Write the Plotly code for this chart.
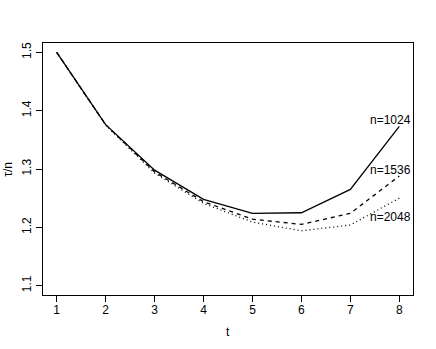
import plotly.graph_objects as go

# iteration index
t = [1, 2, 3, 4, 5, 6, 7, 8]

# tau / n for three sample sizes
tau_1024 = [1.500, 1.376, 1.298, 1.248, 1.224, 1.225, 1.265, 1.373]
tau_1536 = [1.500, 1.376, 1.295, 1.244, 1.214, 1.205, 1.224, 1.288]
tau_2048 = [1.500, 1.375, 1.293, 1.241, 1.209, 1.194, 1.204, 1.250]

labels = ["n=1024", "n=1536", "n=2048"]
label_y = [1.384, 1.2985, 1.2185]

FONT = "Liberation Sans, Arial, sans-serif"

fig = go.Figure()

series = [
    (tau_1024, "solid"),
    (tau_1536, "4px,4px"),
    (tau_2048, "1px,3px"),
]
for vals, dash in series:
    fig.add_trace(go.Scatter(
        x=t,
        y=vals,
        mode="lines",
        line=dict(color="black", width=1.3, dash=dash),
        showlegend=False,
    ))

for lab, ly in zip(labels, label_y):
    fig.add_annotation(
        x=8.27, y=ly, text=lab, showarrow=False,
        xanchor="right", yanchor="middle",
        font=dict(family=FONT, size=12, color="black"),
    )

axis_common = dict(
    showgrid=False,
    zeroline=False,
    showline=True,
    linecolor="black",
    linewidth=1,
    mirror=True,
    ticks="outside",
    ticklen=6,
    tickcolor="black",
    automargin=False,
    tickfont=dict(family=FONT, size=12, color="black"),
)

fig.update_xaxes(
    **axis_common,
    range=[0.72, 8.28],
    tickvals=t,
    ticklabelstandoff=-2,
)
fig.update_yaxes(
    **axis_common,
    range=[1.084, 1.516],
    tickvals=[1.1, 1.2, 1.3, 1.4, 1.5],
    ticktext=["1.1", "1.2", "1.3", "1.4", "1.5"],
    tickangle=-90,
)

# axis titles placed like base graphics
fig.add_annotation(
    xref="paper", yref="paper", x=0.5, y=-0.147, yanchor="middle",
    text="t", showarrow=False, font=dict(family=FONT, size=12, color="black"),
)
fig.add_annotation(
    xref="paper", yref="paper", x=-0.095, y=0.5, xanchor="center",
    text="τ/n", textangle=-90, showarrow=False,
    font=dict(family=FONT, size=12, color="black"),
)

fig.update_layout(
    width=436,
    height=349,
    margin=dict(l=43, r=23, t=43, b=54),
    paper_bgcolor="white",
    plot_bgcolor="white",
    font=dict(family=FONT, size=12, color="black"),
)

# drop the default page margin so the figure sits at the window corner
fig.write_html(
    "out.html",
    config={"displayModeBar": False},
    post_script="document.body.style.margin='0';",
)
